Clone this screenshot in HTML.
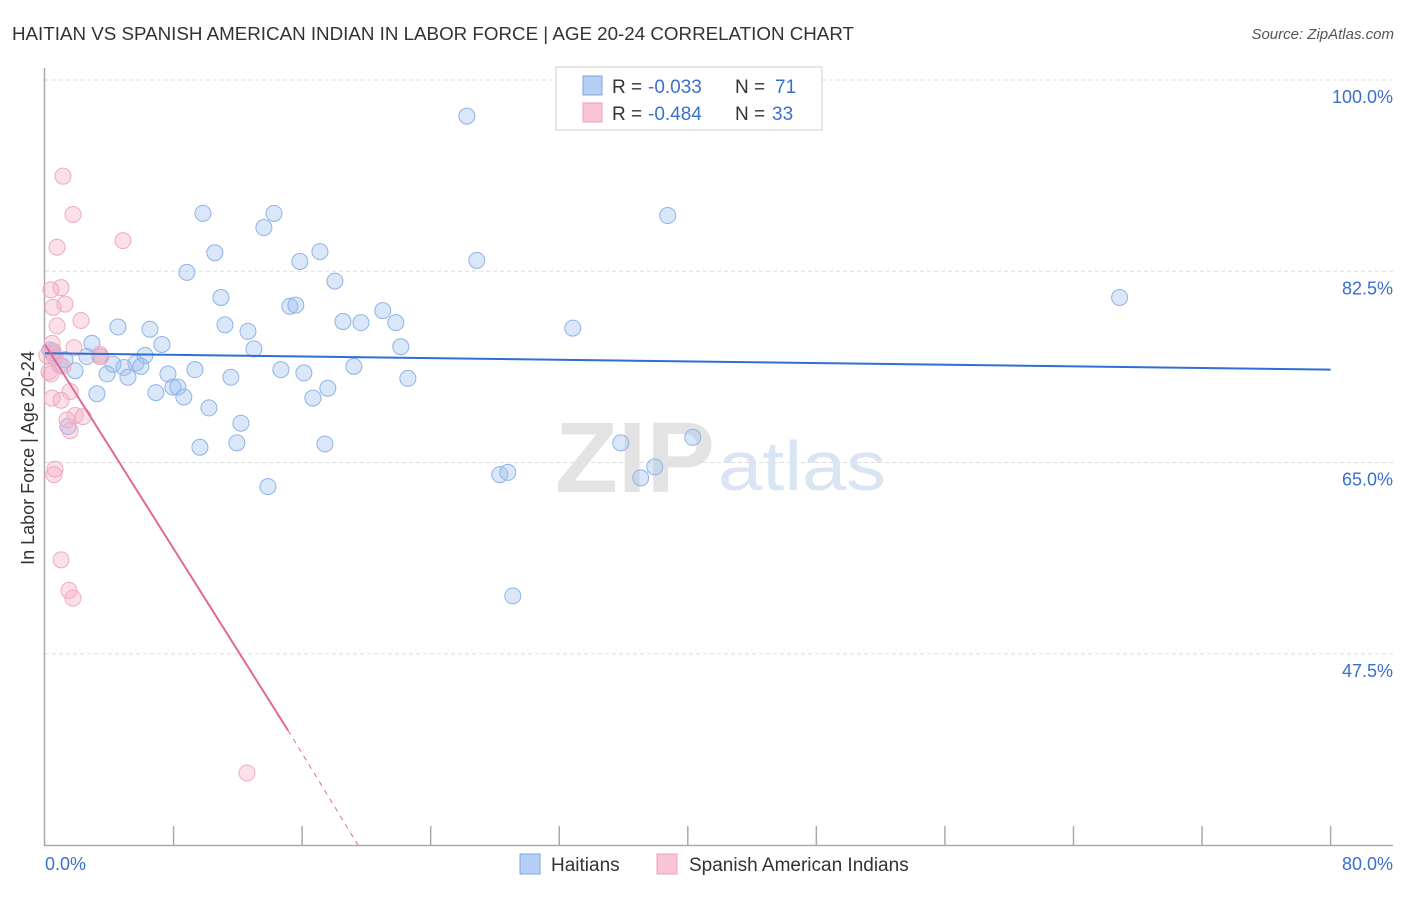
<!DOCTYPE html>
<html><head><meta charset="utf-8"><style>
body{margin:0;background:#fff;font-family:"Liberation Sans",sans-serif;}
svg text{font-family:"Liberation Sans",sans-serif;}
</style></head><body>
<svg width="1406" height="892">
<text x="12" y="40" font-size="18" fill="#333" textLength="842" lengthAdjust="spacingAndGlyphs">HAITIAN VS SPANISH AMERICAN INDIAN IN LABOR FORCE | AGE 20-24 CORRELATION CHART</text>
<text x="1394" y="39" font-size="15" fill="#555" text-anchor="end" font-style="italic">Source: ZipAtlas.com</text>
<g id="grid"></g>
<text x="715" y="492" font-size="100" fill="#e3e3e3" text-anchor="end" font-family="Liberation Serif" font-weight="bold" textLength="160" lengthAdjust="spacingAndGlyphs">ZIP</text>
<text x="718" y="490" font-size="70" fill="#dae5f4" textLength="168" lengthAdjust="spacingAndGlyphs">atlas</text>
<g id="marks"></g>
<text transform="translate(34,458) rotate(-90)" font-size="18" fill="#333" text-anchor="middle">In Labor Force | Age 20-24</text>
<text x="45" y="870" font-size="18" fill="#3a6fd0">0.0%</text>
<text x="1393" y="870" font-size="18" fill="#3a6fd0" text-anchor="end">80.0%</text>
<g>
<rect x="556" y="67" width="266" height="63" fill="#fff" stroke="#ccc"/>
<rect x="583" y="76" width="19" height="19" fill="#b6d0f5" stroke="#7aa6e0"/>
<rect x="583" y="103" width="19" height="19" fill="#f9c5d6" stroke="#eea0ba"/>
<text x="612" y="93" font-size="19" fill="#333">R =</text>
<text x="648" y="93" font-size="19" fill="#3a6fd0">-0.033</text>
<text x="735" y="93" font-size="19" fill="#333">N =</text>
<text x="775" y="93" font-size="19" fill="#3a6fd0">71</text>
<text x="612" y="120" font-size="19" fill="#333">R =</text>
<text x="648" y="120" font-size="19" fill="#3a6fd0">-0.484</text>
<text x="735" y="120" font-size="19" fill="#333">N =</text>
<text x="772" y="120" font-size="19" fill="#3a6fd0">33</text>
</g>
<g>
<rect x="520" y="854" width="20" height="20" fill="#b6d0f5" stroke="#7aa6e0"/>
<text x="551" y="871" font-size="19" fill="#333">Haitians</text>
<rect x="657" y="854" width="20" height="20" fill="#f9c5d6" stroke="#eea0ba"/>
<text x="689" y="871" font-size="19" fill="#333">Spanish American Indians</text>
</g>
</svg>
<script>
const yTicks=[100,82.5,65,47.5];
const yTickLabels=["100.0%","82.5%","65.0%","47.5%"];
const xTicks=[0,8,16,24,32,40,48,56,64,72,80];
const haitiansX=[26.25,9.83,14.25,38.75,13.62,10.57,17.11,15.86,26.87,8.83,18.04,66.87,10.95,15.24,15.61,21.02,4.54,6.53,11.2,18.54,19.66,21.83,32.84,12.63,7.28,2.92,22.14,13.0,6.22,2.61,0.5,0.93,1.87,4.23,4.91,5.66,5.97,3.86,5.16,7.65,9.33,11.57,14.68,16.11,19.22,22.58,7.96,8.27,17.6,6.9,8.64,3.23,16.67,10.2,12.19,1.43,17.42,9.64,11.94,35.83,40.31,37.94,37.07,28.3,28.8,13.87,29.11,0.31,0.62,1.24,3.42];
const haitiansY=[96.7,87.8,87.8,87.6,86.5,84.2,84.3,83.4,83.5,82.4,81.6,80.1,80.1,79.3,79.4,78.9,77.4,77.2,77.6,77.9,77.8,77.8,77.3,77.0,75.8,75.9,75.6,75.4,74.8,74.7,75.0,73.9,73.4,74.0,73.7,74.1,73.8,73.1,72.8,73.1,73.5,72.8,73.5,73.2,73.8,72.7,71.9,71.9,71.8,71.4,71.0,71.3,70.9,70.0,68.6,68.3,66.7,66.4,66.8,66.8,67.3,64.6,63.6,63.9,64.1,62.8,52.8,75.3,74.6,74.4,74.7];
const sainX=[1.12,1.74,4.85,0.75,1.0,0.37,1.24,0.5,2.24,0.75,0.44,1.8,0.5,3.42,3.48,0.62,1.12,0.25,0.37,1.56,0.44,1.0,1.87,2.36,1.37,1.56,0.62,0.56,1.0,1.49,1.74,12.57,0.12];
const sainY=[91.2,87.7,85.3,84.7,81.0,80.8,79.5,79.2,78.0,77.5,75.9,75.5,75.2,74.9,74.7,74.6,73.8,73.3,73.1,71.5,70.9,70.7,69.3,69.2,68.9,67.9,64.4,63.9,56.1,53.3,52.6,36.6,74.8];
const blueTrend=[[0,75.0],[80,73.5]];
const pinkTrendSolid=[[0,75.8],[15.12,40.5]];
const pinkTrendDash=[[15.12,40.5],[19.48,30.0]];

const NS="http://www.w3.org/2000/svg";
const X=v=>45+v*16.07;
const Y=v=>80+(100-v)*10.93;
function mk(tag,attrs,parent){const e=document.createElementNS(NS,tag);for(const k in attrs)e.setAttribute(k,attrs[k]);parent.appendChild(e);return e;}
const grid=document.getElementById('grid'),marks=document.getElementById('marks');
yTicks.forEach((t,i)=>{
 const l=mk('line',{x1:45,x2:1393,y1:Y(t),y2:Y(t),stroke:'#ddd','stroke-dasharray':'4,3'},grid);
 
 
 const tx=mk('text',{x:1393,y:Y(t)+23,'font-size':18,fill:'#3a6fd0','text-anchor':'end'},grid);
 tx.textContent=yTickLabels[i];
 
 
});
const ax=mk('path',{d:'M44.5,68 V845.5 H1393',stroke:'#aaa',fill:'none','stroke-width':1.5},grid);


xTicks.slice(1).forEach(t=>{
 const l=mk('line',{x1:X(t),x2:X(t),y1:826,y2:845,stroke:'#aaa','stroke-width':1.5},grid);
 
 
});
haitiansX.forEach((v,i)=>{
 const c=mk('circle',{cx:X(v),cy:Y(haitiansY[i]),r:8,fill:'rgba(160,195,240,0.4)',stroke:'#8fb3e6','stroke-width':1},marks);
 
 
});
sainX.forEach((v,i)=>{
 const c=mk('circle',{cx:X(v),cy:Y(sainY[i]),r:8,fill:'rgba(245,175,200,0.4)',stroke:'#f0aac2','stroke-width':1},marks);
 
 
});
const bl=mk('line',{x1:X(blueTrend[0][0]),y1:Y(blueTrend[0][1]),x2:X(blueTrend[1][0]),y2:Y(blueTrend[1][1]),stroke:'#2f6fd3','stroke-width':2},marks);


const pl=mk('line',{x1:X(pinkTrendSolid[0][0]),y1:Y(pinkTrendSolid[0][1]),x2:X(pinkTrendSolid[1][0]),y2:Y(pinkTrendSolid[1][1]),stroke:'#e0699a','stroke-width':2},marks);


const pd=mk('line',{x1:X(pinkTrendDash[0][0]),y1:Y(pinkTrendDash[0][1]),x2:X(pinkTrendDash[1][0]),y2:Y(pinkTrendDash[1][1]),stroke:'#e0699a','stroke-width':1,'stroke-dasharray':'5,5'},marks);


</script>
</body></html>
